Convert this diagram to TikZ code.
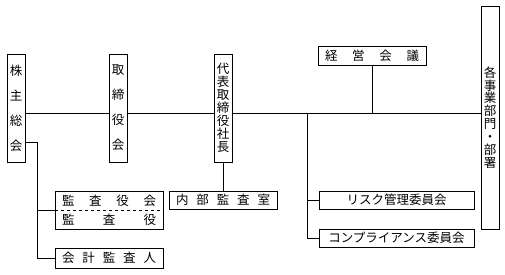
\documentclass[tikz,border=0pt]{standalone}
\usepackage{fontspec}
\setmainfont{Noto Sans CJK JP}
\usetikzlibrary{positioning}
\newcommand{\sprd}[1]{\makebox[94pt][s]{#1}}

\begin{document}
\begin{tikzpicture}[x=1pt,y=-1pt,every node/.style={font=\fontsize{12.5pt}{12.9pt}\selectfont},
 vbox/.style={draw,line width=0.9pt,inner sep=0pt,minimum width=18pt,align=center},
 hbox/.style={draw,line width=0.9pt,inner sep=0pt,minimum height=18pt,align=center},
 ln/.style={line width=0.8pt}]
\useasboundingbox (0,0) rectangle (505,274);
\node[vbox,minimum height=108pt,font=\fontsize{12.5pt}{25pt}\selectfont] (kabu) at (16,108) {株\\主\\総\\会};
\node[vbox,minimum height=108pt,font=\fontsize{12.5pt}{25pt}\selectfont] (tori) at (118,108) {取\\締\\役\\会};
\node[vbox,minimum height=108pt] (daihyo) at (223,108) {代\\表\\取\\締\\役\\社\\長};
\node[vbox,minimum height=223pt] (kaku) at (490,117.5) {各\\事\\業\\部\\門\\・\\部\\署};
\node[hbox,minimum width=108pt,minimum height=19pt] (keiei) at (372,55.5) {\sprd{経 営 会 議}};
\node[hbox,minimum width=108pt] (naibu) at (223,200) {\sprd{内 部 監 査 室}};
\node[hbox,minimum width=108pt,minimum height=38pt,font=\fontsize{12.5pt}{19pt}\selectfont] (kansa) at (109,210) {\sprd{監 査 役 会}\\\sprd{監 査 役}};
\node[hbox,minimum width=108pt,minimum height=20pt] (kaikei) at (109,258) {\sprd{会 計 監 査 人}};
\node[hbox,minimum width=155pt] (risk) at (396.5,200) {リスク管理委員会};
\node[hbox,minimum width=155pt] (comp) at (396.5,238) {コンプライアンス委員会};
\coordinate (mid) at (0,113);
\coordinate (br) at (307,113);
\coordinate (kj) at (37,142);
% main line
\draw[ln] (kabu.east |- mid) -- (tori.west |- mid);
\draw[ln] (tori.east |- mid) -- (daihyo.west |- mid);
\draw[ln] (daihyo.east |- mid) -- (kaku.west |- mid);
\draw[ln] (keiei.south) -- (keiei.south |- mid);
\draw[ln] (daihyo.south) -- (naibu.north);
\draw[ln] (br) |- (comp.west);
\draw[ln] (br |- risk.west) -- (risk.west);
% kansa
\draw[ln] (kabu.east |- kj) -- (kj) |- (kaikei.west);
\draw[ln] (kj |- kansa.west) -- (kansa.west);
\draw[ln,dashed] (kansa.west) -- (kansa.east);
\end{tikzpicture}
\end{document}
